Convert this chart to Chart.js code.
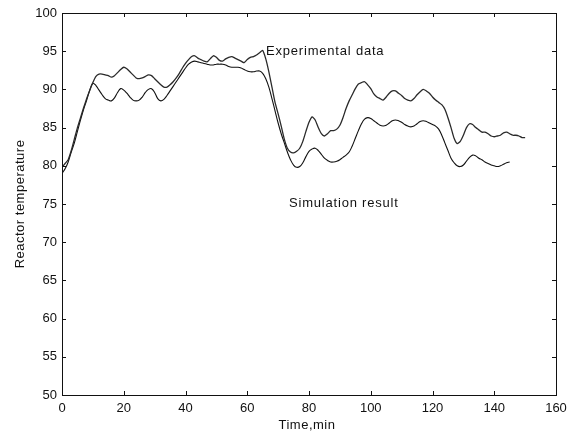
<!DOCTYPE html>
<html>
<head>
<meta charset="utf-8">
<script src="https://cdn.jsdelivr.net/npm/chart.js@4/dist/chart.umd.min.js"></script>
<style>
  html, body { margin: 0; padding: 0; background: #fff; }
  #wrap { width: 574px; height: 438px; }
</style>
</head>
<body>
<div id="wrap"><canvas id="myChart" width="574" height="438"></canvas></div>
<script>
// time axis (min) and the two temperature curves
var expTime = [0,1,2,3,4,5,6,7,8,9,10,11,12,13,14,15,16,17,18,19,20,21,22,23,24,25,26,27,28,29,30,31,32,33,34,35,36,37,38,39,40,41,42,43,44,45,46,47,48,49,50,51,52,53,54,55,56,57,58,59,60,61,62,63,64,65,66,67,68,69,70,71,72,73,74,75,76,77,78,79,80,81,82,83,84,85,86,87,88,89,90,91,92,93,94,95,96,97,98,99,100,101,102,103,104,105,106,107,108,109,110,111,112,113,114,115,116,117,118,119,120,121,122,123,124,125,126,127,128,129,130,131,132,133,134,135,136,137,138,139,140,141,142,143,144,145,146,147,148,149,150];
var expTemp = [79.8,80.3,80.8,82.0,83.5,85.0,86.3,87.6,88.8,89.9,90.9,91.7,92.0,92.0,91.9,91.8,91.6,91.8,92.2,92.6,92.9,92.7,92.3,91.9,91.5,91.4,91.5,91.7,91.9,91.8,91.4,91.0,90.6,90.3,90.3,90.6,91.0,91.5,92.1,92.8,93.4,93.9,94.3,94.4,94.1,93.9,93.7,93.6,94.0,94.4,94.2,93.8,93.7,94.0,94.2,94.3,94.1,93.9,93.7,93.5,93.9,94.2,94.3,94.5,94.8,95.1,94.0,92.3,90.3,88.3,86.8,85.2,83.5,82.3,81.8,81.7,81.9,82.3,83.2,84.5,85.7,86.4,86.0,85.0,84.2,83.9,84.2,84.6,84.6,84.8,85.3,86.3,87.5,88.5,89.3,90.1,90.7,90.9,91.0,90.6,90.1,89.4,89.0,88.8,88.6,89.0,89.5,89.8,89.8,89.5,89.2,88.8,88.6,88.5,88.8,89.3,89.7,90.0,89.8,89.5,89.0,88.6,88.3,88.0,87.4,86.3,85.0,83.6,82.9,83.2,84.0,85.0,85.5,85.4,85.0,84.7,84.4,84.4,84.2,83.9,83.8,83.9,84.0,84.3,84.4,84.2,84.0,84.0,83.9,83.7,83.7];

var simTime = [0,1,2,3,4,5,6,7,8,9,10,11,12,13,14,15,16,17,18,19,20,21,22,23,24,25,26,27,28,29,30,31,32,33,34,35,36,37,38,39,40,41,42,43,44,45,46,47,48,49,50,51,52,53,54,55,56,57,58,59,60,61,62,63,64,65,66,67,68,69,70,71,72,73,74,75,76,77,78,79,80,81,82,83,84,85,86,87,88,89,90,91,92,93,94,95,96,97,98,99,100,101,102,103,104,105,106,107,108,109,110,111,112,113,114,115,116,117,118,119,120,121,122,123,124,125,126,127,128,129,130,131,132,133,134,135,136,137,138,139,140,141,142,143,144,145];
var simTemp = [79.0,79.6,80.5,81.8,83.0,84.5,86.0,87.4,88.6,89.9,90.8,90.5,89.9,89.3,88.8,88.6,88.5,88.9,89.6,90.1,89.9,89.5,89.0,88.6,88.5,88.6,89.0,89.6,90.0,90.1,89.6,88.8,88.5,88.7,89.2,89.8,90.4,91.0,91.6,92.2,92.8,93.3,93.6,93.7,93.6,93.5,93.4,93.3,93.2,93.2,93.3,93.3,93.3,93.2,93.0,92.9,92.9,92.9,92.8,92.6,92.4,92.3,92.3,92.4,92.4,92.1,91.4,90.3,88.8,87.2,85.6,84.2,83.0,81.8,80.8,80.1,79.8,79.9,80.4,81.2,81.9,82.2,82.3,82.0,81.5,81.0,80.7,80.5,80.5,80.6,80.8,81.1,81.4,81.8,82.6,83.6,84.6,85.5,86.1,86.3,86.2,85.9,85.6,85.3,85.2,85.3,85.6,85.9,86.0,85.9,85.7,85.4,85.2,85.1,85.2,85.5,85.8,85.9,85.8,85.6,85.4,85.2,84.8,84.0,83.0,82.0,81.0,80.4,80.0,79.9,80.1,80.6,81.1,81.4,81.3,81.0,80.8,80.5,80.3,80.1,80.0,79.9,80.0,80.2,80.4,80.5];

var xTicks = [0,20,40,60,80,100,120,140,160];
var yTicks = [50,55,60,65,70,75,80,85,90,95,100];

var xTitle = "Time,min";
var yTitle = "Reactor temperature";
var expLabel = "Experimental data";
var simLabel = "Simulation result";

var FONT = "'Liberation Sans', Arial, sans-serif";

function toPoints(xs, ys) {
  var pts = [];
  for (var i = 0; i < xs.length; i++) {
    pts.push({x: xs[i], y: ys[i]});
  }
  return pts;
}

// frame, inward ticks and the text annotations
var decor = {
  id: "decor",
  afterDraw: function(chart) {
    var ctx = chart.ctx;
    var a = chart.chartArea;
    var xs = chart.scales.x;
    var ys = chart.scales.y;
    var len = 4;

    ctx.save();
    ctx.strokeStyle = "#111";
    ctx.lineWidth = 1;
    ctx.strokeRect(Math.round(a.left) + 0.5, Math.round(a.top) + 0.5,
                   Math.round(a.right - a.left), Math.round(a.bottom - a.top));

    ctx.beginPath();
    for (var i = 1; i < xTicks.length - 1; i++) {
      var px = Math.round(xs.getPixelForValue(xTicks[i])) + 0.5;
      ctx.moveTo(px, a.bottom);
      ctx.lineTo(px, a.bottom - len);
      ctx.moveTo(px, a.top);
      ctx.lineTo(px, a.top + len);
    }
    for (var j = 1; j < yTicks.length - 1; j++) {
      var py = Math.round(ys.getPixelForValue(yTicks[j])) + 0.5;
      ctx.moveTo(a.left, py);
      ctx.lineTo(a.left + len, py);
      ctx.moveTo(a.right, py);
      ctx.lineTo(a.right - len, py);
    }
    ctx.stroke();

    ctx.fillStyle = "#111";
    ctx.font = "13px " + FONT;
    ctx.textBaseline = "middle";
    ctx.textAlign = "center";
    ctx.letterSpacing = "0.5px";
    ctx.fillText(xTitle, 307, 425);

    ctx.save();
    ctx.translate(20, 204);
    ctx.rotate(-Math.PI / 2);
    ctx.fillText(yTitle, 0, 0);
    ctx.restore();

    ctx.textAlign = "left";
    ctx.letterSpacing = "0.8px";
    ctx.fillText(expLabel, 266, 51);
    ctx.fillText(simLabel, 289, 203);
    ctx.restore();
  }
};

function getGraph() {
  var ctx = document.getElementById("myChart").getContext("2d");
  var chart = new Chart(ctx, {
    type: "line",
    data: {
      datasets: [{
        label: expLabel,
        data: toPoints(expTime, expTemp),
        borderColor: "#2a2a2a",
        borderWidth: 1.3,
        pointRadius: 0,
        tension: 0.2,
        fill: false
      }, {
        label: simLabel,
        data: toPoints(simTime, simTemp),
        borderColor: "#111",
        borderWidth: 1.1,
        pointRadius: 0,
        tension: 0.4,
        fill: false
      }]
    },
    options: {
      responsive: false,
      animation: false,
      layout: { padding: { left: 0, top: 13, right: 18, bottom: 0 } },
      plugins: {
        legend: { display: false },
        tooltip: { enabled: false }
      },
      scales: {
        x: {
          type: "linear",
          min: 0,
          max: 160,
          afterBuildTicks: function(scale) {
            scale.ticks = xTicks.map(function(v) { return {value: v}; });
          },
          afterFit: function(scale) { scale.height = 43; },
          grid: { display: false, drawTicks: false },
          border: { display: false },
          ticks: { color: "#111", padding: 6, maxRotation: 0, font: { size: 13, family: FONT } }
        },
        y: {
          type: "linear",
          min: 50,
          max: 100,
          afterBuildTicks: function(scale) {
            scale.ticks = yTicks.map(function(v) { return {value: v}; });
          },
          afterFit: function(scale) { scale.width = 62; },
          grid: { display: false, drawTicks: false },
          border: { display: false },
          ticks: { color: "#111", padding: 5, font: { size: 13, family: FONT } }
        }
      }
    },
    plugins: [decor]
  });
}

getGraph();
</script>
</body>
</html>
